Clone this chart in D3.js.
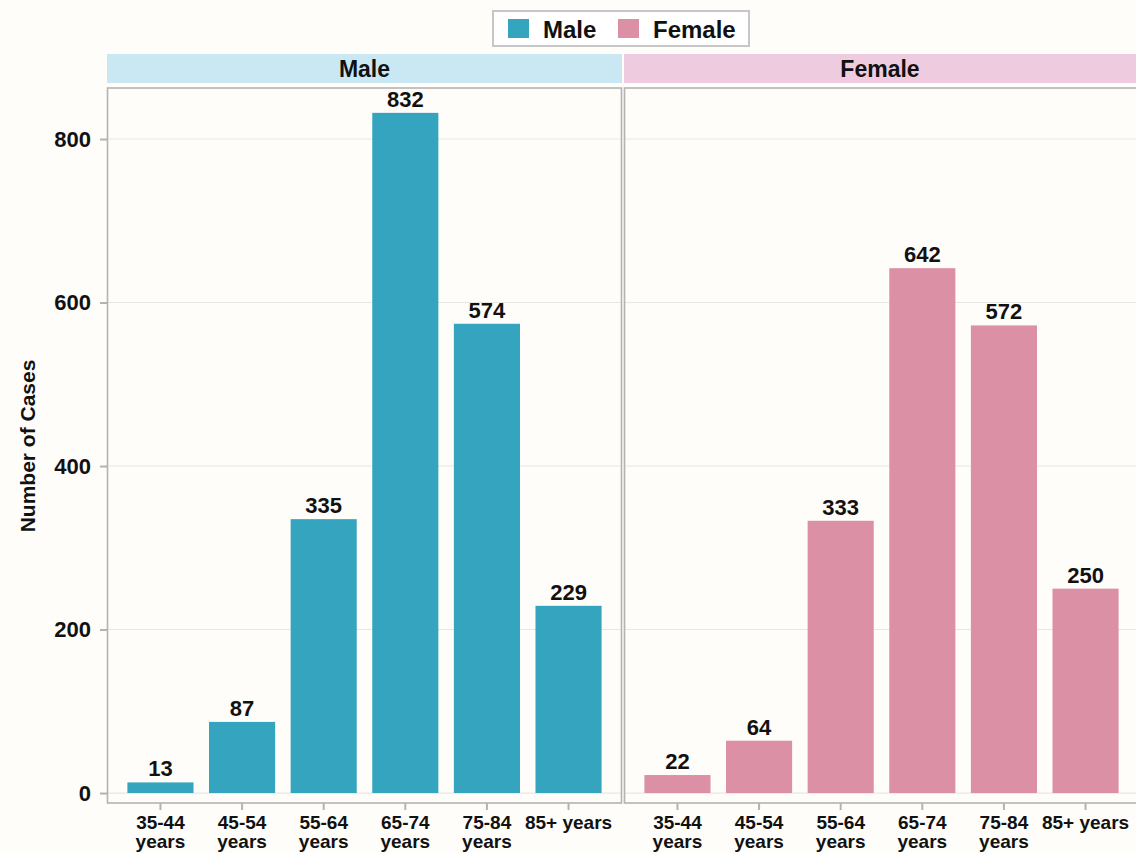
<!DOCTYPE html>
<html>
<head>
<meta charset="utf-8">
<script src="https://cdn.jsdelivr.net/npm/d3@7"></script>
<style>
  body { margin: 0; background: #fefdf9; }
  svg { display: block; font-family: "Liberation Sans", Arial, sans-serif; font-weight: bold; }
</style>
</head>
<body>
<div id="root"></div>
<script>
// data
var ageGroups = ['35-44 years', '45-54 years', '55-64 years', '65-74 years', '75-84 years', '85+ years'];
var ageLabels = [['35-44', 'years'], ['45-54', 'years'], ['55-64', 'years'], ['65-74', 'years'], ['75-84', 'years'], ['85+ years']];
var sexes = ['Male', 'Female'];
var maleCases = [13, 87, 335, 832, 574, 229];
var femaleCases = [22, 64, 333, 642, 572, 250];
var yTicks = [0, 200, 400, 600, 800];

var colors = { Male: '#35a4bf', Female: '#dc90a6' };
var stripColors = { Male: '#cae8f4', Female: '#efcbdf' };

var W = 1136, H = 853;
var svg = d3.select('#root').append('svg').attr('width', W).attr('height', H);
svg.append('rect').attr('width', W).attr('height', H).attr('fill', '#fefdf9');

// panel layout
var plotTop = 88, plotBottom = 803;
var panels = [
  { sex: 'Male', x0: 107, x1: 622, values: maleCases },
  { sex: 'Female', x0: 624, x1: 1139, values: femaleCases }
];

var yScale = d3.scaleLinear().domain([-12.2, 862.4]).range([plotBottom, plotTop]);

panels.forEach(function(p) {
  var xScale = d3.scaleBand().domain(ageGroups).range([p.x0, p.x1])
    .paddingInner(0.19).paddingOuter(0.25);
  var g = svg.append('g');

  // strip
  g.append('rect').attr('x', p.x0).attr('y', 54).attr('width', p.x1 - p.x0).attr('height', 29)
    .attr('fill', stripColors[p.sex]);
  g.append('text').attr('x', (p.x0 + Math.min(p.x1, W)) / 2).attr('y', 77)
    .attr('text-anchor', 'middle').attr('font-size', 23).attr('fill', '#111').text(p.sex);

  // grid
  g.append('g').selectAll('line').data(yTicks).enter().append('line')
    .attr('x1', p.x0).attr('x2', p.x1)
    .attr('y1', function(d) { return yScale(d); }).attr('y2', function(d) { return yScale(d); })
    .attr('stroke', '#e7e7e4').attr('stroke-width', 1.2);

  // bars
  var data = ageGroups.map(function(a, i) { return { age: a, value: p.values[i] }; });
  g.append('g').selectAll('rect').data(data).enter().append('rect')
    .attr('x', function(d) { return xScale(d.age); })
    .attr('width', xScale.bandwidth())
    .attr('y', function(d) { return yScale(d.value); })
    .attr('height', function(d) { return yScale(0) - yScale(d.value); })
    .attr('fill', colors[p.sex]);

  g.append('g').selectAll('text').data(data).enter().append('text')
    .attr('x', function(d) { return xScale(d.age) + xScale.bandwidth() / 2; })
    .attr('y', function(d) { return yScale(d.value) - 6; })
    .attr('text-anchor', 'middle').attr('font-size', 22).attr('fill', '#111')
    .text(function(d) { return d.value; });

  // border
  g.append('rect').attr('x', p.x0 + 0.5).attr('y', plotTop).attr('width', p.x1 - p.x0 - 1).attr('height', plotBottom - plotTop)
    .attr('fill', 'none').attr('stroke', '#b3b3b3').attr('stroke-width', 1.6);

  // x axis
  var xAxis = g.append('g').attr('transform', 'translate(0,' + plotBottom + ')')
    .call(d3.axisBottom(xScale).tickSize(7).tickFormat(''));
  xAxis.select('.domain').remove();
  xAxis.selectAll('.tick line').attr('stroke', '#b3b3b3').attr('stroke-width', 2);
  g.append('g').selectAll('text').data(ageGroups).enter().append('text')
    .attr('x', function(d) { return xScale(d) + xScale.bandwidth() / 2; })
    .attr('y', 829)
    .attr('text-anchor', 'middle').attr('font-size', 19).attr('fill', '#111')
    .each(function(d, i) {
      var t = d3.select(this);
      ageLabels[i].forEach(function(line, j) {
        t.append('tspan').attr('x', xScale(d) + xScale.bandwidth() / 2).attr('dy', j == 0 ? 0 : 19).text(line);
      });
    });
});

// y axis
var yAxis = svg.append('g').attr('transform', 'translate(107,0)')
  .call(d3.axisLeft(yScale).tickValues(yTicks).tickSize(7).tickPadding(9));
yAxis.select('.domain').remove();
yAxis.selectAll('.tick line').attr('stroke', '#b3b3b3').attr('stroke-width', 2);
yAxis.selectAll('.tick text').attr('font-size', 22).attr('fill', '#111')
  .attr('font-family', '"Liberation Sans", Arial, sans-serif').attr('font-weight', 'bold');

svg.append('text').attr('transform', 'translate(35,446) rotate(-90)')
  .attr('text-anchor', 'middle').attr('font-size', 21).attr('fill', '#111').text('Number of Cases');

// legend
var legend = svg.append('g');
legend.append('rect').attr('x', 493).attr('y', 11).attr('width', 256).attr('height', 35)
  .attr('fill', '#ffffff').attr('stroke', '#c6c6c6').attr('stroke-width', 2);
var legendX = { Male: 508, Female: 618 };
sexes.forEach(function(s) {
  legend.append('rect').attr('x', legendX[s]).attr('y', 19).attr('width', 21).attr('height', 19)
    .attr('fill', colors[s]);
  legend.append('text').attr('x', legendX[s] + 35).attr('y', 38).attr('font-size', 24)
    .attr('fill', '#111').text(s);
});
</script>
</body>
</html>
